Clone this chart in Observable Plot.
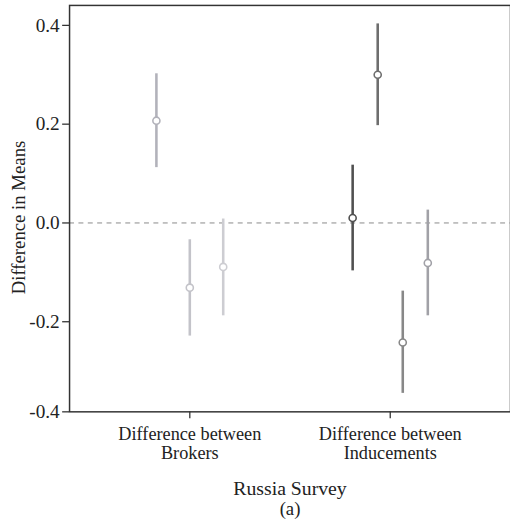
<!DOCTYPE html>
<html>
<head>
<meta charset="utf-8">
<script src="https://cdn.jsdelivr.net/npm/d3@7"></script>
<script src="https://cdn.jsdelivr.net/npm/@observablehq/plot@0.6"></script>
<style>
  html, body { margin: 0; padding: 0; background: #fff; }
  #chart { width: 510px; height: 531px; overflow: hidden; }
  #chart svg { font-family: "Liberation Serif", "DejaVu Serif", serif; }
</style>
</head>
<body>
<div id="chart"></div>
<script>
// Categories (x axis) and tick labels
const categories = ["Difference between\nBrokers", "Difference between\nInducements"];
// Which category each estimate belongs to, and its slot within the category
const groupIndex = [0, 0, 0, 1, 1, 1, 1];
const slotIndex  = [0, 1, 2, 0, 1, 2, 3];
// Point estimates and 95% interval bounds
const estimate = [0.207, -0.131, -0.089, 0.010, 0.300, -0.242, -0.081];
const lower    = [0.112, -0.229, -0.188, -0.097, 0.197, -0.345, -0.188];
const upper    = [0.302, -0.034, 0.008, 0.117, 0.403, -0.138, 0.026];
// Series colours
const colors   = ["#b2b2ba", "#c3c3c9", "#cdcdd2", "#505050", "#6e6e6e", "#888888", "#a1a1a7"];
// Y tick values
const yTicks = [-0.4, -0.2, 0.0, 0.2, 0.4];

const yTitle = "Difference in Means";
const xTitle = "Russia Survey";
const panelTag = "(a)";

// position_dodge(width = 0.5) like placement
const dodgeWidth = 0.5;
const groupCounts = categories.map((_, g) => groupIndex.filter(d => d === g).length);
const data = estimate.map((v, i) => {
  const n = groupCounts[groupIndex[i]];
  return {
    x: groupIndex[i] + 1 + (slotIndex[i] - (n - 1) / 2) * dodgeWidth / n,
    y: v, lo: lower[i], hi: upper[i], color: colors[i]
  };
});

// y range: data range expanded by 5% on each side
const yMin = d3.min(lower), yMax = d3.max(upper);
const pad = (yMax - yMin) * 0.05;

const fontFamily = '"Liberation Serif", "DejaVu Serif", serif';

const chart = Plot.plot({
  width: 517,
  height: 531,
  marginLeft: 70,
  marginRight: 0,
  marginTop: 5,
  marginBottom: 114,
  style: { fontFamily, fontSize: "18px", color: "#222", background: "white" },
  x: { domain: [0.4, 2.6] },
  y: { domain: [yMin - pad, yMax + pad], clamp: true },
  marks: [
    Plot.ruleY([0], { stroke: "#888", strokeWidth: 1, strokeDasharray: "5,4.5" }),
    Plot.ruleX(data, { x: "x", y1: "lo", y2: "hi", stroke: "color", strokeWidth: 2.6 }),
    Plot.dot(data, { x: "x", y: "y", r: 3.6, fill: "white", stroke: "color", strokeWidth: 1.6 }),
    Plot.frame({ stroke: "#333", strokeWidth: 1.5 }),
    Plot.axisY(yTicks, {
      tickSize: 7, tickPadding: 3, stroke: "#333", strokeWidth: 1.3,
      tickFormat: d => d.toFixed(1), fontSize: 19.5, fill: "#222", label: null
    }),
    Plot.axisX([1, 2], {
      tickSize: 7, tickPadding: 7, stroke: "#333", strokeWidth: 1.3,
      tickFormat: d => categories[d - 1], fontSize: 18.5, fill: "#222",
      lineHeight: 1.08, label: null
    }),
    Plot.text([yTitle], {
      frameAnchor: "left", dx: -51, dy: 9, rotate: -90, fontSize: 19, fill: "#222",
      textAnchor: "middle"
    }),
    Plot.text([xTitle], {
      frameAnchor: "bottom", dy: 70, lineAnchor: "top", fontSize: 20, fill: "#222"
    }),
    Plot.text([panelTag], {
      frameAnchor: "bottom", dy: 91, lineAnchor: "top", fontSize: 19, fill: "#222"
    })
  ]
});

document.getElementById("chart").appendChild(chart);
</script>
</body>
</html>
